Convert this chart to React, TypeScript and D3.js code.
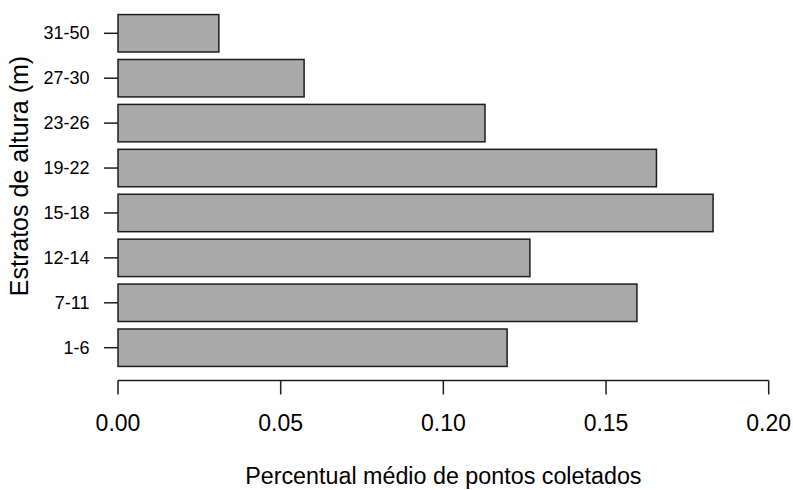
import React from "react";
import * as d3 from "d3";

// Height classes (bottom to top) and mean share of collected points
const strata = ["1-6", "7-11", "12-14", "15-18", "19-22", "23-26", "27-30", "31-50"];
const meanShare = [0.1196, 0.1595, 0.1266, 0.1829, 0.1655, 0.1128, 0.0572, 0.031];
const xTicks = [0, 0.05, 0.1, 0.15, 0.2];

const W = 793;
const H = 490;
const FONT = "'Liberation Sans', Arial, Helvetica, sans-serif";

// barplot-style geometry: unit width bars separated by 0.2 space
const barWidth = 1;
const barSpace = 0.2;
const yMin = barSpace;
const yMax = strata.length * (barWidth + barSpace);
const pad = (yMax - yMin) * 0.04;

export default function App() {
  const x = d3.scaleLinear().domain([0, 0.2]).range([118, 768.7]);
  const y = d3.scaleLinear().domain([yMin - pad, yMax + pad]).range([380.5, 0.5]);

  const bars = strata.map((label, i) => {
    const lo = barSpace + i * (barWidth + barSpace);
    const hi = lo + barWidth;
    return { label, value: meanShare[i], lo, hi, mid: (lo + hi) / 2 };
  });

  const axisY = y(yMin - pad);

  return (
    <svg
      width={W}
      height={H}
      style={{ position: "absolute", left: 0, top: 0, background: "#fff" }}
      fontFamily={FONT}
    >
      <rect width={W} height={H} fill="#fff" />
      {bars.map((b) => (
        <rect
          key={b.label}
          x={x(0)}
          y={y(b.hi)}
          width={x(b.value) - x(0)}
          height={y(b.lo) - y(b.hi)}
          fill="#a9a9a9"
          stroke="#1e1e1e"
          strokeWidth={1.5}
        />
      ))}

      {/* category axis: ticks and labels only */}
      {bars.map((b) => (
        <g key={"t" + b.label}>
          <line x1={104} x2={118} y1={y(b.mid)} y2={y(b.mid)} stroke="#1e1e1e" strokeWidth={1.5} />
          <text
            x={89.5}
            y={y(b.mid)}
            textAnchor="end"
            dominantBaseline="central"
            fontSize={18}
            fill="#000"
          >
            {b.label}
          </text>
        </g>
      ))}

      {/* value axis */}
      <line x1={x(0)} x2={x(0.2)} y1={axisY} y2={axisY} stroke="#1e1e1e" strokeWidth={1.5} />
      {xTicks.map((t) => (
        <g key={"x" + t}>
          <line x1={x(t)} x2={x(t)} y1={axisY} y2={axisY + 14} stroke="#1e1e1e" strokeWidth={1.5} />
          <text x={x(t)} y={431} textAnchor="middle" fontSize={23} fill="#000">
            {d3.format(".2f")(t)}
          </text>
        </g>
      ))}

      <text x={(x(0) + x(0.2)) / 2} y={484} textAnchor="middle" fontSize={23.3} fill="#000">
        Percentual médio de pontos coletados
      </text>
      <text
        transform="translate(28, 176) rotate(-90)"
        textAnchor="middle"
        fontSize={25}
        fill="#000"
      >
        Estratos de altura (m)
      </text>
    </svg>
  );
}
